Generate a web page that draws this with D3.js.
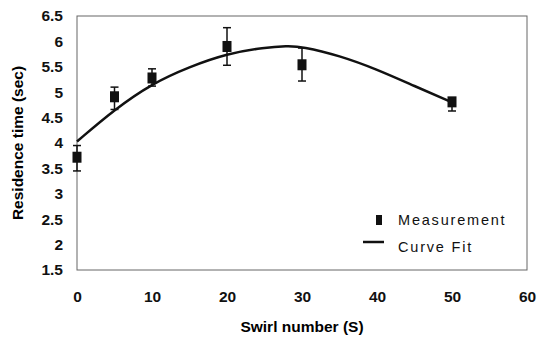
<!DOCTYPE html>
<meta charset="utf-8">
<style>
body { margin: 0; background: #fff; }
.axis path, .axis line { display: none; }
.axis text { font-family: "Liberation Sans", Arial, sans-serif; font-weight: bold; font-size: 15.5px; fill: #111; }
</style>
<script src="https://d3js.org/d3.v7.min.js"></script>
<div id="chart"></div>
<script>
var swirl = [0, 5, 10, 20, 30, 50];
var residence = [3.72, 4.91, 5.28, 5.9, 5.54, 4.81];
var errLow = [3.45, 4.66, 5.12, 5.53, 5.22, 4.63];
var errHigh = [3.95, 5.1, 5.46, 6.27, 5.87, 4.88];

// curve fit
var fitX = [0, 5, 10, 15, 20, 25, 28, 30, 35, 40, 45, 50];
var fitY = [4.03, 4.66, 5.17, 5.5, 5.76, 5.88, 5.91, 5.9, 5.72, 5.45, 5.12, 4.8];

var xTicks = [0, 10, 20, 30, 40, 50, 60];
var yTicks = [1.5, 2, 2.5, 3, 3.5, 4, 4.5, 5, 5.5, 6, 6.5];

var margin = {top: 16, right: 19, bottom: 71, left: 77},
    width = 546 - margin.left - margin.right,
    height = 341 - margin.top - margin.bottom;

var svg = d3.select("#chart")
  .append("svg")
    .attr("width", 546)
    .attr("height", 341)
  .append("g")
    .attr("transform", "translate(" + margin.left + "," + margin.top + ")");

var x = d3.scaleLinear().domain([0, 60]).range([0, width]);
var y = d3.scaleLinear().domain([1.5, 6.5]).range([height, 0]);

// plot frame
svg.append("rect")
    .attr("width", width)
    .attr("height", height)
    .attr("fill", "none")
    .attr("stroke", "#666")
    .attr("stroke-width", 1);

svg.append("g")
    .attr("class", "axis")
    .attr("transform", "translate(0," + height + ")")
    .call(d3.axisBottom(x).tickValues(xTicks).tickSize(0).tickPadding(21));

svg.append("g")
    .attr("class", "axis")
    .call(d3.axisLeft(y).tickValues(yTicks).tickFormat(d3.format("~g")).tickSize(0).tickPadding(14));

// axis titles
svg.append("text")
    .attr("x", width / 2)
    .attr("y", height + 62)
    .attr("text-anchor", "middle")
    .style("font-family", "Liberation Sans, Arial, sans-serif")
    .style("font-weight", "bold")
    .style("font-size", "15.5px")
    .text("Swirl number (S)");

svg.append("text")
    .attr("transform", "translate(-54," + (height / 2) + ")rotate(-90)")
    .attr("text-anchor", "middle")
    .style("font-family", "Liberation Sans, Arial, sans-serif")
    .style("font-weight", "bold")
    .style("font-size", "15.5px")
    .text("Residence time (sec)");

// curve fit
var fit = fitX.map(function(d, i) { return [d, fitY[i]]; });
svg.append("path")
    .datum(fit)
    .attr("fill", "none")
    .attr("stroke", "#111")
    .attr("stroke-width", 2.5)
    .attr("d", d3.line()
      .x(function(d) { return x(d[0]); })
      .y(function(d) { return y(d[1]); })
      .curve(d3.curveBasis));

// error bars and markers
var pts = swirl.map(function(d, i) {
  return {s: d, v: residence[i], lo: errLow[i], hi: errHigh[i]};
});

var g = svg.selectAll(".pt")
    .data(pts)
    .enter()
    .append("g");

g.append("line")
    .attr("x1", function(d) { return x(d.s); })
    .attr("x2", function(d) { return x(d.s); })
    .attr("y1", function(d) { return y(d.lo); })
    .attr("y2", function(d) { return y(d.hi); })
    .attr("stroke", "#111")
    .attr("stroke-width", 1.5);

g.append("line")
    .attr("x1", function(d) { return x(d.s) - 4; })
    .attr("x2", function(d) { return x(d.s) + 4; })
    .attr("y1", function(d) { return y(d.hi); })
    .attr("y2", function(d) { return y(d.hi); })
    .attr("stroke", "#111")
    .attr("stroke-width", 1.5);

g.append("line")
    .attr("x1", function(d) { return x(d.s) - 4; })
    .attr("x2", function(d) { return x(d.s) + 4; })
    .attr("y1", function(d) { return y(d.lo); })
    .attr("y2", function(d) { return y(d.lo); })
    .attr("stroke", "#111")
    .attr("stroke-width", 1.5);

g.append("rect")
    .attr("x", function(d) { return x(d.s) - 4.5; })
    .attr("y", function(d) { return y(d.v) - 5.5; })
    .attr("width", 9)
    .attr("height", 11)
    .attr("fill", "#111");

// legend
var legend = svg.append("g")
    .attr("transform", "translate(" + (width - 164) + "," + (height - 55) + ")");

legend.append("rect")
    .attr("x", 13)
    .attr("y", 0)
    .attr("width", 6)
    .attr("height", 10)
    .attr("fill", "#111");

legend.append("line")
    .attr("x1", 0)
    .attr("x2", 21)
    .attr("y1", 27)
    .attr("y2", 27)
    .attr("stroke", "#111")
    .attr("stroke-width", 2.5);

legend.selectAll(".lt")
    .data(["Measurement", "Curve Fit"])
    .enter()
    .append("text")
    .attr("x", 35)
    .attr("y", function(d, i) { return 10 + i * 27; })
    .style("font-family", "Liberation Sans, Arial, sans-serif")
    .style("font-size", "14.5px")
    .style("letter-spacing", "1.8px")
    .attr("fill", "#111")
    .text(function(d) { return d; });
</script>
